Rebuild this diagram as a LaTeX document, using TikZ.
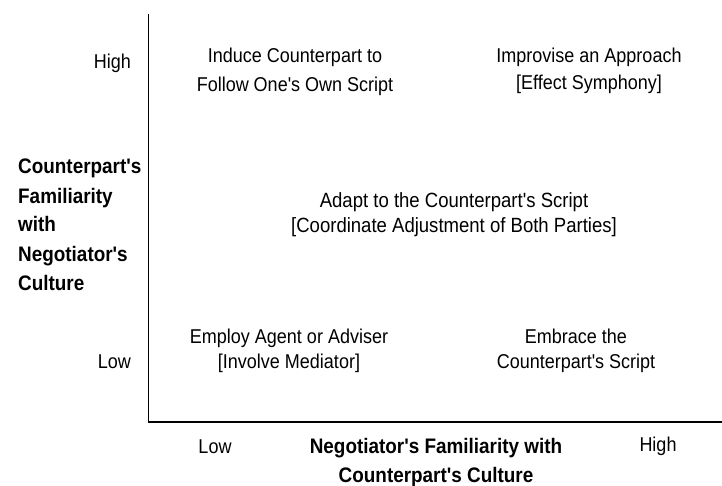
\documentclass[tikz,border=0pt]{standalone}
\usepackage{fontspec}
\setmainfont[FakeStretch=0.9,Ligatures=TeXOff]{Liberation Sans}
\begin{document}
\begin{tikzpicture}[x=1pt,y=-1pt,
  cell/.style={anchor=base,align=center,inner sep=0pt,font=\fontsize{20}{26}\selectfont},
  tick/.style={anchor=base,inner sep=0pt,font=\fontsize{20}{26}\selectfont},
  axislabel/.style={anchor=base,inner sep=0pt,font=\fontsize{21}{29}\selectfont\bfseries},
  axisline/.style={line width=1pt,black}]
  \useasboundingbox (0,0) rectangle (722,486);
  % axes (multi-line nodes below are placed by the baseline of their last line)
  \coordinate (top) at (148,14);
  \coordinate (origin) at (148,422);
  \coordinate (right) at (722,422);
  \draw[axisline] (top) -- (origin);
  \draw[axisline,line width=1.4pt] (origin) -- (right);
  % vertical axis
  \node[tick,anchor=base east] (yhigh) at (131,69) {High};
  \node[tick,anchor=base east] (ylow) at (131,368) {Low};
  \node[axislabel,anchor=base west,align=left] (ylabel) at (18,290)
    {Counterpart's\\Familiarity\\with\\Negotiator's\\Culture};
  % horizontal axis
  \node[tick] (xlow) at (215,453) {Low};
  \node[tick] (xhigh) at (658,451) {High};
  \node[axislabel,align=center] (xlabel) at (436,482)
    {Negotiator's Familiarity with\\Counterpart's Culture};
  % strategies
  \node[cell,font=\fontsize{20}{29}\selectfont] (tl) at (295,92)
    {Induce Counterpart to\\Follow One's Own Script};
  \node[cell,font=\fontsize{20}{27}\selectfont] (tr) at (589,90)
    {Improvise an Approach\\{[}Effect Symphony{]}};
  \node[cell,font=\fontsize{20.6}{25}\selectfont] (mid) at (454,233)
    {Adapt to the Counterpart's Script\\{[}Coordinate Adjustment of Both Parties{]}};
  \node[cell,font=\fontsize{20}{25}\selectfont] (bl) at (289,368)
    {Employ Agent or Adviser\\{[}Involve Mediator{]}};
  \node[cell,font=\fontsize{20}{25}\selectfont] (br) at (576,368)
    {Embrace the\\Counterpart's Script};
\end{tikzpicture}
\end{document}
